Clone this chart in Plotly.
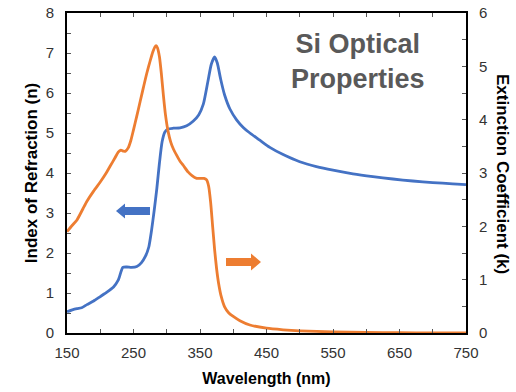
import plotly.graph_objects as go

# Refractive index n of silicon (left axis)
wl_n = [150, 158, 165, 172, 180, 190, 200, 210, 220, 227, 234, 240, 247, 255, 262, 268, 273,
        277, 281, 285, 289, 293, 297, 302, 310, 320, 330, 340, 348, 355, 362, 367, 372,
        376, 381, 387, 395, 405, 415, 425, 440, 455, 475, 500, 525, 550, 580, 610, 640,
        670, 700, 730, 750]
n_vals = [0.53, 0.58, 0.61, 0.63, 0.71, 0.80, 0.91, 1.02, 1.15, 1.32, 1.64, 1.65, 1.64, 1.66, 1.76, 1.92, 2.15,
          2.55, 3.05, 3.6, 4.25, 4.78, 5.02, 5.1, 5.12, 5.13, 5.18, 5.3, 5.45, 5.72, 6.3, 6.72, 6.9,
          6.75, 6.35, 5.95, 5.6, 5.33, 5.14, 5.0, 4.82, 4.64, 4.46, 4.28, 4.16, 4.07, 3.98, 3.91, 3.85,
          3.80, 3.76, 3.73, 3.71]

# Extinction coefficient k of silicon (right axis)
wl_k = [150, 158, 165, 174, 180, 190, 200, 208, 215, 222, 227, 231, 235, 238, 242, 246, 250, 255,
        260, 265, 270, 275, 279, 282, 284, 286, 289, 292, 295, 298, 302, 306, 310, 315, 320,
        325, 332, 338, 345, 352, 356, 360, 363, 366, 369, 372, 375, 378, 382, 387, 393, 400,
        410, 425, 450, 475, 500, 550, 600, 650, 700, 750]
k_vals = [1.9, 2.02, 2.12, 2.33, 2.47, 2.66, 2.83, 2.98, 3.13, 3.28, 3.39, 3.43, 3.41, 3.41, 3.47, 3.61, 3.81, 4.07,
          4.34, 4.61, 4.87, 5.1, 5.27, 5.36, 5.39, 5.35, 5.18, 4.85, 4.45, 4.1, 3.78, 3.58, 3.45, 3.33, 3.22,
          3.14, 3.02, 2.95, 2.9, 2.9, 2.9, 2.87, 2.75, 2.45, 2.0, 1.56, 1.2, 0.93, 0.68, 0.49, 0.38, 0.31,
          0.23, 0.15, 0.09, 0.06, 0.04, 0.02, 0.01, 0.005, 0.002, 0.0]

x_ticks = [150, 250, 350, 450, 550, 650, 750]

BLUE = "#4472C4"
ORANGE = "#ED7D31"
TICK_FONT = dict(family="Liberation Sans Narrow, Arial Narrow, Liberation Sans, Arial, sans-serif",
                 size=15, color="#333333")
TITLE_FONT_X = dict(family="Liberation Sans, Arial, sans-serif", size=16, color="#000000")
TITLE_FONT_Y = dict(family="Liberation Sans, Arial, sans-serif", size=17, color="#000000")

fig = go.Figure()
fig.add_trace(go.Scatter(x=wl_n, y=n_vals, mode="lines",
                         line=dict(color=BLUE, width=2.8, shape="spline", smoothing=0.6),
                         name="n", yaxis="y"))
fig.add_trace(go.Scatter(x=wl_k, y=k_vals, mode="lines",
                         line=dict(color=ORANGE, width=2.8, shape="spline", smoothing=0.6),
                         name="k", yaxis="y2"))

# plot-area geometry in pixels, used to place the block arrows and the titles
L, R, T, B = 67, 466, 13, 333


def px(xp, yp):
    return (xp - L) / (R - L), (B - yp) / (B - T)


def block_arrow(x_tail, x_tip, yc, shaft_h, head_h, head_len):
    d = 1 if x_tip > x_tail else -1
    x_neck = x_tip - d * head_len
    pts = [(x_tail, yc - shaft_h / 2), (x_neck, yc - shaft_h / 2), (x_neck, yc - head_h / 2),
           (x_tip, yc), (x_neck, yc + head_h / 2), (x_neck, yc + shaft_h / 2), (x_tail, yc + shaft_h / 2)]
    p = [px(a, b) for a, b in pts]
    return "M " + " L ".join(f"{a:.4f},{b:.4f}" for a, b in p) + " Z"


fig.add_shape(type="path", xref="paper", yref="paper", path=block_arrow(150, 116, 211, 8, 15, 9),
              fillcolor=BLUE, line=dict(width=0))
fig.add_shape(type="path", xref="paper", yref="paper", path=block_arrow(226, 261, 262, 8, 17, 10),
              fillcolor=ORANGE, line=dict(width=0))

fig.add_annotation(text="<b>Si Optical<br>Properties</b>", xref="paper", yref="paper",
                   x=px(358, 0)[0], y=px(0, 61)[1], showarrow=False, align="center",
                   font=dict(family="Liberation Sans, Arial, sans-serif", size=27, color="#595959"),
                   xanchor="center", yanchor="middle")

# right-hand axis title, set a little further out than the margin allows for an axis title
fig.add_annotation(text="<b>Extinction Coefficient (k)</b>", xref="paper", yref="paper",
                   x=px(503, 0)[0], y=px(0, 174)[1], showarrow=False, textangle=90,
                   font=TITLE_FONT_Y, xanchor="center", yanchor="middle")

fig.update_layout(
    width=516, height=392,
    margin=dict(l=L, r=516 - R, t=T, b=392 - B),
    plot_bgcolor="white", paper_bgcolor="white",
    showlegend=False,
    xaxis=dict(range=[150, 750], tickvals=x_ticks, ticktext=[str(v) for v in x_ticks],
               showline=True, linecolor="black", linewidth=2, mirror="ticks", automargin=False,
               ticks="inside", ticklen=4, tickcolor="#555555", ticklabelstandoff=5,
               minor=dict(dtick=50, tick0=150, ticks="inside", ticklen=4, tickcolor="#555555"),
               showgrid=False, zeroline=False, tickfont=TICK_FONT,
               title=dict(text="<b>Wavelength (nm)</b>", font=TITLE_FONT_X, standoff=13)),
    yaxis=dict(range=[0, 8], dtick=1, showline=True, linecolor="black", linewidth=2, automargin=False,
               ticks="inside", ticklen=4, tickcolor="#555555", ticklabelstandoff=8,
               minor=dict(dtick=0.5, ticks="inside", ticklen=4, tickcolor="#555555"),
               showgrid=False, zeroline=False, tickfont=TICK_FONT,
               title=dict(text="<b>Index of Refraction (n)</b>", font=TITLE_FONT_Y, standoff=4)),
    yaxis2=dict(range=[0, 6], dtick=1, overlaying="y", side="right",
                showline=True, linecolor="black", linewidth=2, automargin=False,
                ticks="inside", ticklen=4, tickcolor="#555555", ticklabelstandoff=8,
                minor=dict(dtick=0.5, ticks="inside", ticklen=4, tickcolor="#555555"),
                showgrid=False, zeroline=False, tickfont=TICK_FONT),
)

fig.write_html("out.html")
